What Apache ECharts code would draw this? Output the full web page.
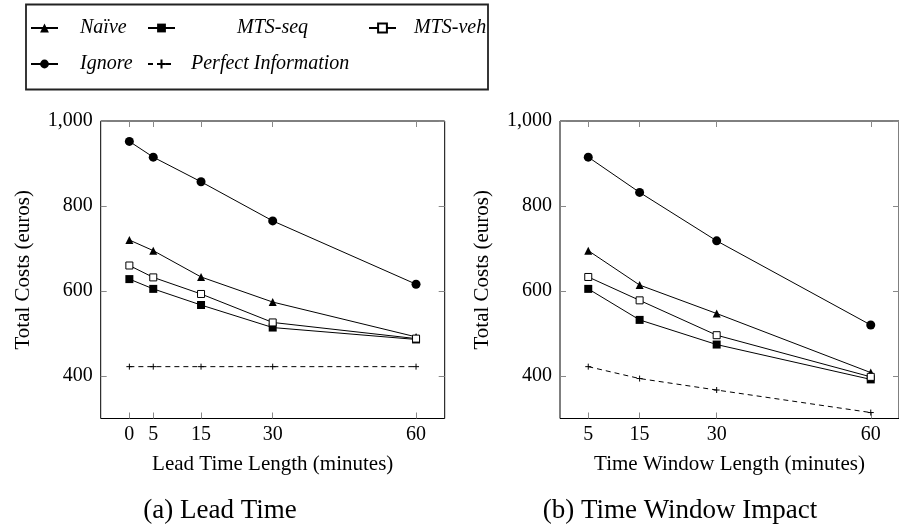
<!DOCTYPE html>
<html>
<head>
<meta charset="utf-8">
<script src="https://cdn.jsdelivr.net/npm/echarts@6/dist/echarts.min.js"></script>
<style>
html,body{margin:0;padding:0;background:#fff;}
#chart{width:899px;height:531px;}
</style>
</head>
<body>
<div id="chart"></div>
<script>
// ---- data ----
var leadX = [0, 5, 15, 30, 60];
var leadNaive   = [720, 695, 633, 574, 492];
var leadMtsSeq  = [628, 605, 567, 514, 486];
var leadMtsVeh  = [660, 632, 593, 526, 488];
var leadIgnore  = [952, 915, 857, 765, 616];
var leadPerfect = [422, 422, 422, 422, 422];

var twX = [5, 15, 30, 60];
var twNaive   = [695, 614, 547, 408];
var twMtsSeq  = [605, 532, 474, 392];
var twMtsVeh  = [633, 578, 496, 398];
var twIgnore  = [915, 832, 718, 520];
var twPerfect = [422, 394, 367, 314];

var yTicks = [400, 600, 800, 1000];
var leadTicks = [0, 5, 15, 30, 60];
var twTicks = [5, 15, 30, 60];

var seriesNames = ['Naïve', 'MTS-seq', 'MTS-veh', 'Ignore', 'Perfect Information'];
var xTitles = ['Lead Time Length (minutes)', 'Time Window Length (minutes)'];
var yTitle = 'Total Costs (euros)';
var captions = ['(a) Lead Time', '(b) Time Window Impact'];

// ---- helpers ----
function pairs(xs, ys) { return xs.map(function (x, i) { return [x, ys[i]]; }); }
function fmt(v) { return String(v).replace(/\B(?=(\d{3})+(?!\d))/g, ','); }
var SERIF = '"Liberation Serif", "DejaVu Serif", serif';
var PLUS = 'path://M5,0L5,10M0,5L10,5';

var styles = {
  'Naïve': { symbol: 'triangle', symbolSize: 8, itemStyle: { color: '#000' }, lineStyle: { color: '#000', width: 1 } },
  'MTS-seq': { symbol: 'rect', symbolSize: 8, itemStyle: { color: '#000' }, lineStyle: { color: '#000', width: 1 } },
  'MTS-veh': { symbol: 'rect', symbolSize: 7, itemStyle: { color: '#fff', borderColor: '#000', borderWidth: 1 }, lineStyle: { color: '#000', width: 1 } },
  'Ignore': { symbol: 'circle', symbolSize: 9, itemStyle: { color: '#000' }, lineStyle: { color: '#000', width: 1 } },
  'Perfect Information': { symbol: PLUS, symbolSize: 6, itemStyle: { color: '#000', borderColor: '#000', borderWidth: 1 }, lineStyle: { color: '#000', width: 1, type: [5, 4] } }
};

function mkSeries(name, xs, ys, idx) {
  var s = styles[name];
  return {
    type: 'line', name: name, xAxisIndex: idx * 2, yAxisIndex: idx * 2,
    data: pairs(xs, ys), symbol: s.symbol, symbolSize: s.symbolSize,
    showSymbol: true, itemStyle: s.itemStyle, lineStyle: s.lineStyle,
    emphasis: { disabled: true }, z: 3
  };
}

var series = [];
[[leadNaive, leadMtsSeq, leadMtsVeh, leadIgnore, leadPerfect],
 [twNaive, twMtsSeq, twMtsVeh, twIgnore, twPerfect]].forEach(function (set, idx) {
  var xs = idx === 0 ? leadX : twX;
  seriesNames.forEach(function (n, k) { series.push(mkSeries(n, xs, set[k], idx)); });
});

var grids = [
  { left: 100.7, top: 121, width: 344, height: 297.5 },
  { left: 560, top: 121, width: 344, height: 297.5 }
];
grids.forEach(function (g) { g.show = true; g.borderColor = '#000'; g.borderWidth = 1; g.backgroundColor = 'transparent'; });

var tickStyle = { show: true, inside: true, length: 6, lineStyle: { color: '#888', width: 1 } };
var noLine = { show: false, onZero: false };

var xAxes = [], yAxes = [];
[[-6, 66, leadTicks], [-0.5, 65.5, twTicks]].forEach(function (r, idx) {
  xAxes.push({
    type: 'value', gridIndex: idx, position: 'bottom', min: r[0], max: r[1],
    axisLine: noLine, splitLine: { show: false },
    axisTick: Object.assign({ customValues: r[2] }, tickStyle),
    axisLabel: { customValues: r[2], margin: 6, fontFamily: SERIF, fontSize: 20, color: '#000' },
    name: xTitles[idx], nameLocation: 'middle', nameGap: 35,
    nameTextStyle: { fontFamily: SERIF, fontSize: 21, color: '#000' }
  });
  xAxes.push({
    type: 'value', gridIndex: idx, position: 'top', min: r[0], max: r[1],
    axisLine: noLine, splitLine: { show: false },
    axisTick: Object.assign({ customValues: r[2] }, tickStyle),
    axisLabel: { show: false }
  });
  yAxes.push({
    type: 'value', gridIndex: idx, position: 'left', min: 300, max: 1000,
    axisLine: noLine, splitLine: { show: false },
    axisTick: Object.assign({ customValues: yTicks }, tickStyle),
    axisLabel: { customValues: yTicks, formatter: fmt, margin: 8, fontFamily: SERIF, fontSize: 20, color: '#000' },
    name: yTitle, nameLocation: 'middle', nameGap: 67, nameRotate: 90,
    nameTextStyle: { fontFamily: SERIF, fontSize: 21, color: '#000' }
  });
  yAxes.push({
    type: 'value', gridIndex: idx, position: 'right', min: 300, max: 1000,
    axisLine: noLine, splitLine: { show: false },
    axisTick: Object.assign({ customValues: yTicks }, tickStyle),
    axisLabel: { show: false }
  });
});

function mkLegend(name, left, top, pad) {
  return {
    data: [name], left: left, top: top, padding: 0, itemWidth: 27, itemHeight: 11,
    selectedMode: false,
    textStyle: { fontFamily: SERIF, fontStyle: 'italic', fontSize: 20, color: '#000', padding: [0, 0, 0, pad] }
  };
}
var legends = [
  mkLegend('Naïve', 30, 18, 17),
  mkLegend('MTS-seq', 147, 18, 57),
  mkLegend('MTS-veh', 368, 18, 13),
  mkLegend('Ignore', 30, 54, 17),
  mkLegend('Perfect Information', 147, 54, 11)
];

var chart = echarts.init(document.getElementById('chart'), null, { renderer: 'canvas' });
chart.setOption({
  animation: false,
  backgroundColor: '#fff',
  legend: legends,
  grid: grids,
  xAxis: xAxes,
  yAxis: yAxes,
  series: series,
  graphic: [
    { type: 'rect', shape: { x: 26, y: 4.5, width: 462, height: 85 }, style: { fill: 'none', stroke: '#222', lineWidth: 1.8 }, z: 1 },
    { type: 'text', x: 220, y: 511, style: { text: captions[0], textAlign: 'center', textVerticalAlign: 'middle', font: '27px ' + SERIF, fill: '#000' } },
    { type: 'text', x: 680, y: 511, style: { text: captions[1], textAlign: 'center', textVerticalAlign: 'middle', font: '27px ' + SERIF, fill: '#000' } }
  ]
});
</script>
</body>
</html>
